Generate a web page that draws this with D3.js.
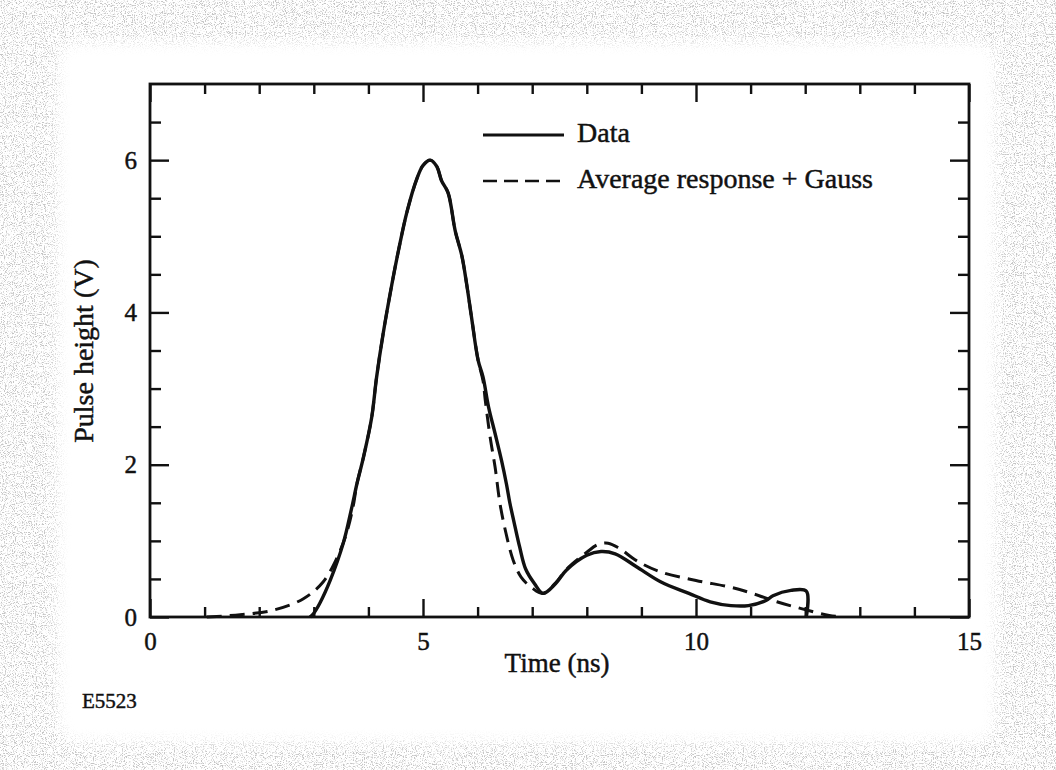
<!DOCTYPE html>
<html><head><meta charset="utf-8">
<script src="https://cdn.jsdelivr.net/npm/d3@7/dist/d3.min.js"></script>
<style>
html,body{margin:0;padding:0;background:#fff;}
svg text{font-family:"Liberation Serif","Times New Roman",serif;fill:#111;stroke:#111;stroke-width:0.45px;}
</style></head>
<body>
<svg id="chart" width="1056" height="770"></svg>
<script>
// Data (Time in ns, Pulse height in V)
const dataTime = [2.93,3.0,3.11,3.30,3.54,3.69,3.79,3.91,4.06,4.15,4.27,4.43,4.55,4.71,4.89,5.0,5.13,5.25,5.34,5.46,5.59,5.71,5.8,5.89,6.01,6.1,6.2,6.32,6.44,6.53,6.59,6.66,6.77,6.88,7.04,7.2,7.43,7.62,8.0,8.26,8.52,8.91,9.36,9.87,10.26,10.64,10.96,11.29,11.41,11.74,12.02,12.02];
const dataVolt = [0,0.05,0.18,0.48,0.97,1.42,1.75,2.1,2.62,3.15,3.72,4.37,4.81,5.33,5.76,5.93,6.0,5.92,5.73,5.57,5.07,4.75,4.37,3.93,3.37,3.15,2.76,2.41,2.05,1.74,1.5,1.27,0.92,0.63,0.44,0.31,0.44,0.61,0.81,0.86,0.83,0.66,0.46,0.31,0.2,0.15,0.15,0.22,0.28,0.35,0.34,0];

const fitTime = [1.04,1.65,2.26,2.81,3.17,3.42,3.6,3.72,3.79,3.91,4.06,4.15,4.27,4.43,4.55,4.71,4.89,5.0,5.13,5.25,5.34,5.46,5.59,5.71,5.8,5.89,6.01,6.1,6.14,6.23,6.32,6.41,6.52,6.65,6.8,7.0,7.19,7.43,7.62,8.0,8.2,8.39,8.6,8.91,9.36,10.0,10.64,11.03,11.48,11.93,12.44,12.7];
const fitVolt = [0,0.03,0.09,0.24,0.46,0.77,1.1,1.45,1.75,2.1,2.62,3.15,3.72,4.37,4.81,5.33,5.76,5.93,6.0,5.92,5.73,5.57,5.07,4.75,4.37,3.93,3.37,3.1,2.85,2.36,1.97,1.49,1.1,0.75,0.52,0.38,0.31,0.45,0.62,0.85,0.95,0.97,0.9,0.74,0.59,0.48,0.39,0.31,0.2,0.11,0.02,0];

const xMajor = [0,5,10,15];
const xMinor = [1,2,3,4,6,7,8,9,11,12,13,14];
const yMajor = [0,2,4,6];
const yMinor = [0.5,1,1.5,2.5,3,3.5,4.5,5,5.5,6.5];
const legendLabels = ["Data","Average response + Gauss"];

const svg = d3.select("#chart");
const W = 1056, H = 770;

// speckled paper background
const defs = svg.append("defs");
const f = defs.append("filter").attr("id","noise").attr("x",0).attr("y",0).attr("width","100%").attr("height","100%");
f.append("feTurbulence").attr("type","fractalNoise").attr("baseFrequency","0.9").attr("numOctaves",2).attr("seed",11).attr("result","t");
f.append("feColorMatrix").attr("in","t").attr("type","matrix")
 .attr("values","0 0 0 0 0.55  0 0 0 0 0.55  0 0 0 0 0.55  5 0 0 0 -2.55");
const bl = defs.append("filter").attr("id","soft").attr("x","-5%").attr("y","-5%").attr("width","110%").attr("height","110%");
bl.append("feGaussianBlur").attr("stdDeviation",7);

svg.append("rect").attr("width",W).attr("height",H).attr("fill","#fff");
svg.append("rect").attr("width",W).attr("height",H).attr("filter","url(#noise)");
svg.append("rect").attr("x",58).attr("y",42).attr("width",938).attr("height",700).attr("rx",20)
  .attr("fill","#fff").attr("filter","url(#soft)");

const x = d3.scaleLinear().domain([0,15]).range([150,969]);
const y = d3.scaleLinear().domain([0,7]).range([617,84]);

const g = svg.append("g");
const fontTick = 25;

function styleAxis(sel){
  sel.select(".domain").remove();
  sel.selectAll(".tick line").attr("stroke","#111").attr("stroke-width",2.4);
  sel.selectAll(".tick text").attr("font-size",fontTick).attr("font-family","Liberation Serif, serif").attr("fill","#111");
}

// bottom
g.append("g").attr("transform",`translate(0,${y(0)})`)
 .call(d3.axisBottom(x).tickValues(xMajor).tickSize(-18).tickPadding(15).tickFormat(d3.format("d"))).call(styleAxis);
g.append("g").attr("transform",`translate(0,${y(0)})`)
 .call(d3.axisBottom(x).tickValues(xMinor).tickSize(-10).tickFormat("")).call(styleAxis);
// top
g.append("g").attr("transform",`translate(0,${y(7)})`)
 .call(d3.axisTop(x).tickValues(xMajor).tickSize(-18).tickFormat("")).call(styleAxis);
g.append("g").attr("transform",`translate(0,${y(7)})`)
 .call(d3.axisTop(x).tickValues(xMinor).tickSize(-10).tickFormat("")).call(styleAxis);
// left
g.append("g").attr("transform",`translate(${x(0)},0)`)
 .call(d3.axisLeft(y).tickValues(yMajor).tickSize(-19).tickPadding(13).tickFormat(d3.format("d"))).call(styleAxis);
g.append("g").attr("transform",`translate(${x(0)},0)`)
 .call(d3.axisLeft(y).tickValues(yMinor).tickSize(-11).tickFormat("")).call(styleAxis);
// right
g.append("g").attr("transform",`translate(${x(15)},0)`)
 .call(d3.axisRight(y).tickValues(yMajor).tickSize(-19).tickFormat("")).call(styleAxis);
g.append("g").attr("transform",`translate(${x(15)},0)`)
 .call(d3.axisRight(y).tickValues(yMinor).tickSize(-11).tickFormat("")).call(styleAxis);

// frame
g.append("rect").attr("x",x(0)).attr("y",y(7)).attr("width",x(15)-x(0)).attr("height",y(0)-y(7))
 .attr("fill","none").attr("stroke","#111").attr("stroke-width",2.8);

// curves
const line = d3.line().x(d=>x(d[0])).y(d=>y(d[1])).curve(d3.curveCatmullRom.alpha(0.5));
const dataPts = dataTime.map((t,i)=>[t,dataVolt[i]]);
const fitPts = fitTime.map((t,i)=>[t,fitVolt[i]]);
g.append("path").attr("d",line(fitPts)).attr("fill","none").attr("stroke","#111")
 .attr("stroke-width",3).attr("stroke-dasharray","15,8");
g.append("path").attr("d",line(dataPts)).attr("fill","none").attr("stroke","#111")
 .attr("stroke-width",3.4).attr("stroke-linejoin","round");

// legend
const leg = g.append("g");
const legY = [135,181];
leg.append("line").attr("x1",483).attr("x2",564).attr("y1",legY[0]).attr("y2",legY[0]).attr("stroke","#111").attr("stroke-width",2.8);
leg.append("line").attr("x1",483).attr("x2",564).attr("y1",legY[1]).attr("y2",legY[1]).attr("stroke","#111").attr("stroke-width",2.4).attr("stroke-dasharray","14,7");
legendLabels.forEach((s,i)=>{
  leg.append("text").attr("x",577).attr("y",legY[i]+7).attr("font-size",28).text(s);
});

// axis titles
svg.append("text").attr("x",557).attr("y",672).attr("text-anchor","middle").attr("font-size",27).text("Time (ns)");
svg.append("text").attr("transform","translate(93,351) rotate(-90)").attr("text-anchor","middle").attr("font-size",28).text("Pulse height (V)");
svg.append("text").attr("x",82).attr("y",708).attr("font-size",21).text("E5523");
</script>
</body></html>
